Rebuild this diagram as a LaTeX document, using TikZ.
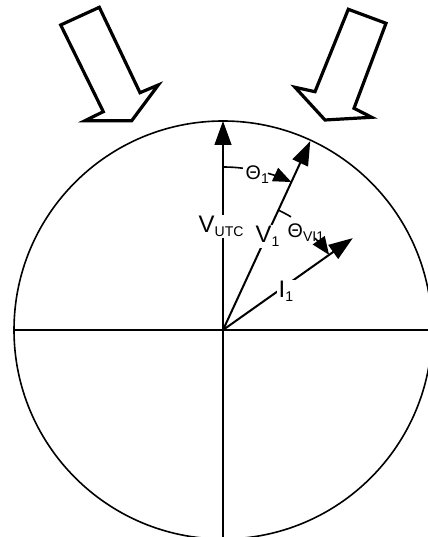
\documentclass[tikz,border=0pt]{standalone}
\usepackage{fontspec}
\setmainfont{Liberation Sans}
\usetikzlibrary{calc,arrows.meta}
\newcommand{\phsub}[2]{#1\raisebox{-0.3ex}{\fontsize{10}{11}\selectfont #2}}
\tikzset{
  axis/.style={line width=0.45mm},
  rim/.style={line width=0.4mm},
  phasor/.style={line width=0.5mm, -{Triangle[length=6mm, width=4.2mm]}},
  anglemark/.style={line width=0.4mm},
  anglehead/.style={line width=0.4mm, -{Triangle[length=4.5mm, width=3.6mm]}},
  phlabel/.style={anchor=base west, fill=white, inner sep=1pt, font=\fontsize{17}{19}\selectfont},
  anglelabel/.style={anchor=base west, inner sep=1pt, font=\fontsize{14}{16}\selectfont},
  flux/.style={line width=0.8mm, line join=miter}
}

\begin{document}
\begin{tikzpicture}[x=0.25mm, y=0.25mm]
  \useasboundingbox (0,0) rectangle (427,537);

  \coordinate (O) at (223,207);
  \coordinate (west) at ($(O)+(-209,0)$);
  \coordinate (east) at ($(O)+(209,0)$);
  \coordinate (south) at ($(O)+(0,-209)$);
  \coordinate (vutc) at ($(O)+(90:209)$);
  \coordinate (v1) at ($(O)+(65.2:208)$);
  \coordinate (i1) at ($(O)+(35.3:159)$);

  \draw[rim] (O) circle[radius=209];
  \draw[axis] (west) -- (east);
  \draw[rim] (O) -- (south);

  \draw[phasor] (O) -- (vutc);
  \draw[phasor] (O) -- (v1);
  \draw[phasor] (O) -- (i1);

  \draw[anglemark] ($(O)+(90:163)$) arc[start angle=90, end angle=83, radius=163];
  \draw[anglehead] ($(O)+(74:163)$) arc[start angle=74, end angle=65.2, radius=163];
  \draw[anglemark] ($(O)+(65.2:132)$) arc[start angle=65.2, end angle=59, radius=132];
  \draw[anglehead] ($(O)+(45:130)$) arc[start angle=45, end angle=35.3, radius=130];

  \node[phlabel] (lutc) at (197,304) {\phsub{V}{UTC}};
  \node[phlabel] (lv1) at (254,294) {\phsub{V}{1}};
  \node[phlabel] (li1) at (277,239) {\phsub{I}{1}};
  \node[anglelabel] (lth1) at (244,357) {\phsub{Θ}{1}};
  \node[anglelabel] (lthvi) at (286,299) {\phsub{Θ}{VI1}};

  \draw[flux] (60.7,512) -- (99.3,529.7) -- (140,444.3) -- (158.3,452) -- (131.7,416.3) -- (85,416.3) -- (103.3,425.3) -- cycle;
  \draw[flux] (348.3,527.7) -- (386,513.7) -- (354,428.7) -- (371.7,419.7) -- (325,417) -- (295,449.7) -- (315,445.3) -- cycle;
\end{tikzpicture}
\end{document}
